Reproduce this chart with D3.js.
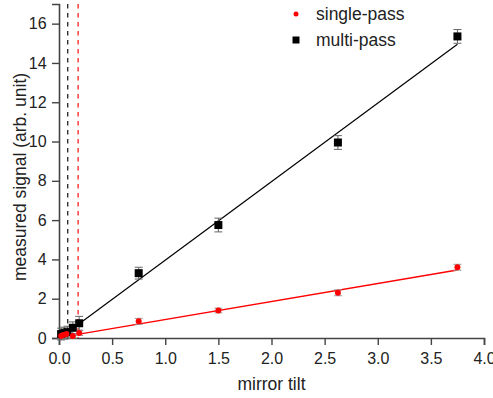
<!DOCTYPE html>
<meta charset="utf-8" />
<script src="https://d3js.org/d3.v7.min.js"></script>
<style>
  body { margin: 0; background: #fff; }
  text { font-family: Arial, "Liberation Sans", sans-serif; fill: #222; }
</style>
<body>
<div id="chart"></div>
<script>
  // data
  var singleX = [0.02, 0.04, 0.07, 0.13, 0.19, 0.75, 1.5, 2.625, 3.75];
  var singleY = [0.1, 0.15, 0.2, 0.1, 0.25, 0.85, 1.4, 2.3, 3.6];
  var singleErr = [0.1, 0.1, 0.1, 0.1, 0.12, 0.15, 0.12, 0.15, 0.15];
  var multiX = [0.02, 0.05, 0.08, 0.13, 0.19, 0.75, 1.5, 2.625, 3.75];
  var multiY = [0.2, 0.25, 0.3, 0.52, 0.75, 3.3, 5.75, 9.95, 15.35];
  var multiErr = [0.3, 0.3, 0.3, 0.3, 0.35, 0.3, 0.35, 0.35, 0.35];
  var fitX = [0.19, 3.75];
  var singleFit = [0.2, 3.46];
  var multiFit = [0.72, 14.95];
  var markerLines = [{ x: 0.082, c: "#222" }, { x: 0.18, c: "#ff2020" }];
  var xTicks = [0, 0.5, 1, 1.5, 2, 2.5, 3, 3.5, 4];
  var yTicks = [0, 2, 4, 6, 8, 10, 12, 14, 16];

  var W = 493, H = 398;
  var margin = { top: 4, right: 9, bottom: 60, left: 59 };

  var svg = d3.select("#chart").append("svg")
    .attr("width", W).attr("height", H);

  var x = d3.scaleLinear().domain([0, 4]).range([margin.left, W - margin.right]);
  var y = d3.scaleLinear().domain([0, 17]).range([H - margin.bottom, margin.top]);

  // minor ticks, then major ticks with labels
  var gx = svg.append("g").attr("transform", "translate(0," + y(0) + ")");
  gx.call(d3.axisBottom(x).tickValues(d3.range(0.25, 4, 0.5)).tickSize(4).tickFormat(""));
  gx.call(d3.axisBottom(x).tickValues(xTicks).tickSize(7).tickFormat(d3.format(".1f")));
  var gy = svg.append("g").attr("transform", "translate(" + x(0) + ",0)");
  gy.call(d3.axisLeft(y).tickValues(d3.range(1, 17.5, 2)).tickSize(4).tickFormat(""));
  gy.call(d3.axisLeft(y).tickValues(yTicks).tickSize(7).tickFormat(d3.format("d")));
  svg.selectAll(".domain").attr("stroke", "#444").attr("stroke-width", 1.6);
  svg.selectAll(".tick line").attr("stroke", "#444").attr("stroke-width", 1.4);
  gx.selectAll(".tick text").attr("font-size", 16).attr("dy", "1.0em").style("fill", "#222");
  gy.selectAll(".tick text").attr("font-size", 16).attr("dx", "-0.15em").style("fill", "#222");
  svg.selectAll(".tick text").attr("font-family", "Arial, 'Liberation Sans', sans-serif");

  // axis labels
  svg.append("text")
    .attr("x", x(2)).attr("y", 390)
    .attr("text-anchor", "middle").attr("font-size", 17.5)
    .text("mirror tilt");
  svg.append("text")
    .attr("transform", "translate(26,177) rotate(-90)")
    .attr("text-anchor", "middle").attr("font-size", 17.5)
    .text("measured signal (arb. unit)");

  // dashed vertical lines
  svg.selectAll(".vline").data(markerLines).enter().append("line")
    .attr("x1", function(d) { return x(d.x); })
    .attr("x2", function(d) { return x(d.x); })
    .attr("y1", y(17)).attr("y2", y(0))
    .attr("stroke", function(d) { return d.c; })
    .attr("stroke-width", 1.3)
    .attr("stroke-dasharray", "4.5,4.5");

  // fit lines
  var line = d3.line().x(function(d) { return x(d[0]); }).y(function(d) { return y(d[1]); });
  svg.append("path").datum(d3.zip(fitX, singleFit)).attr("d", line)
    .attr("stroke", "#ff0000").attr("stroke-width", 1.4).attr("fill", "none");
  svg.append("path").datum(d3.zip(fitX, multiFit)).attr("d", line)
    .attr("stroke", "#000").attr("stroke-width", 1.2).attr("fill", "none");

  // error bars
  function errBars(xs, ys, es, col) {
    var g = svg.append("g").attr("stroke", col).attr("stroke-width", 1);
    xs.forEach(function(v, i) {
      var cx = x(v), t = y(ys[i] + es[i]), b = y(ys[i] - es[i]);
      g.append("line").attr("x1", cx).attr("x2", cx).attr("y1", t).attr("y2", b);
      g.append("line").attr("x1", cx - 4).attr("x2", cx + 4).attr("y1", t).attr("y2", t);
      g.append("line").attr("x1", cx - 4).attr("x2", cx + 4).attr("y1", b).attr("y2", b);
    });
  }
  errBars(multiX, multiY, multiErr, "#666");
  errBars(singleX, singleY, singleErr, "#999");

  // markers
  svg.selectAll(".sq").data(d3.zip(multiX, multiY)).enter().append("rect")
    .attr("x", function(d) { return x(d[0]) - 4; })
    .attr("y", function(d) { return y(d[1]) - 4; })
    .attr("width", 8).attr("height", 8).attr("fill", "#000");
  svg.selectAll(".dot").data(d3.zip(singleX, singleY)).enter().append("circle")
    .attr("cx", function(d) { return x(d[0]); })
    .attr("cy", function(d) { return y(d[1]); })
    .attr("r", 3).attr("fill", "#ff0000");

  // legend
  var leg = svg.append("g");
  leg.append("circle").attr("cx", 296).attr("cy", 14).attr("r", 2.5).attr("fill", "#ff0000");
  leg.append("text").attr("x", 316).attr("y", 20).attr("font-size", 17.5).text("single-pass");
  leg.append("rect").attr("x", 292.5).attr("y", 36.5).attr("width", 7).attr("height", 7).attr("fill", "#000");
  leg.append("text").attr("x", 316).attr("y", 46).attr("font-size", 17.5).text("multi-pass");
</script>
</body>
